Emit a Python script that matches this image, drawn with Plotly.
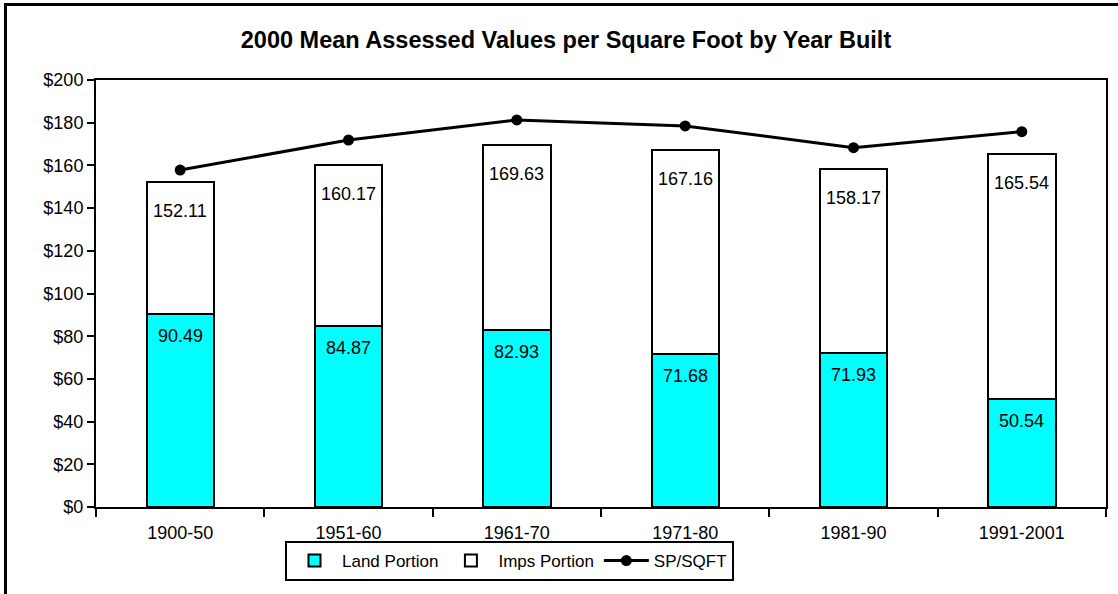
import plotly.graph_objects as go

years = ['1900-50', '1951-60', '1961-70', '1971-80', '1981-90', '1991-2001']
land = [90.49, 84.87, 82.93, 71.68, 71.93, 50.54]
total = [152.11, 160.17, 169.63, 167.16, 158.17, 165.54]
sp_sqft = [157.8, 171.9, 181.3, 178.5, 168.3, 175.8]

imps = [t - l for t, l in zip(total, land)]

FONT = 'Liberation Sans, Arial, sans-serif'
W, H = 1118, 594
L, R, T, B = 96, 12, 80, 87
pw, ph = W - L - R, H - T - B


def px_x(x):
  return (x - L) / pw


def px_y(y):
  return (H - B - y) / ph


fig = go.Figure()

fig.add_trace(go.Bar(
  x=years, y=land, name='Land Portion',
  marker=dict(color='#00FFFF', line=dict(color='black', width=2)),
))
fig.add_trace(go.Bar(
  x=years, y=imps, name='Imps Portion',
  marker=dict(color='white', line=dict(color='black', width=2)),
))
fig.add_trace(go.Scatter(
  x=years, y=sp_sqft, name='SP/SQFT', mode='lines+markers',
  line=dict(color='black', width=3),
  marker=dict(color='black', size=11),
))

annotations = []
for yr, v in zip(years, land):
  annotations.append(dict(x=yr, y=v, text='%.2f' % v, showarrow=False,
                          yshift=-22, font=dict(size=18, color='black')))
for yr, v in zip(years, total):
  annotations.append(dict(x=yr, y=v, text='%.2f' % v, showarrow=False,
                          yshift=-29, font=dict(size=18, color='black')))

# outer frame (only left and top edges are visible)
frame = dict(type='path', xref='paper', yref='paper',
             path='M %f %f L %f %f L %f %f' % (px_x(5.5), px_y(620), px_x(5.5), px_y(4.5),
                                              px_x(1130), px_y(4.5)),
             line=dict(color='black', width=3))

fig.update_layout(
  width=W, height=H,
  margin=dict(l=L, r=R, t=T, b=B),
  paper_bgcolor='white', plot_bgcolor='white',
  font=dict(family=FONT, size=18, color='black'),
  barmode='stack', bargap=0.6,
  title=dict(text='<b>2000 Mean Assessed Values per Square Foot by Year Built</b>',
             x=566 / W, xanchor='center', y=1 - 40 / H, yanchor='middle',
             font=dict(size=23.5, family=FONT, color='black')),
  xaxis=dict(showline=True, linecolor='black', linewidth=2, mirror=True,
             ticks='outside', ticklen=8, tickwidth=2, tickcolor='black',
             tickson='boundaries', showgrid=False, ticklabelstandoff=8,
             automargin=False),
  yaxis=dict(range=[0, 200], dtick=20, tickprefix='$', showline=True,
             linecolor='black', linewidth=2, mirror=True, ticks='outside',
             ticklen=7, tickwidth=2, tickcolor='black', showgrid=False,
             zeroline=False, automargin=False),
  legend=dict(orientation='h', x=px_x(285), y=px_y(581),
              xanchor='left', yanchor='bottom',
              bordercolor='black', borderwidth=2, font=dict(size=17),
              traceorder='normal', itemwidth=45, tracegroupgap=0),
  annotations=annotations,
  shapes=[frame],
)

fig.write_html('out.html', config={'displayModeBar': False},
               post_script="document.body.style.margin='0px';")
